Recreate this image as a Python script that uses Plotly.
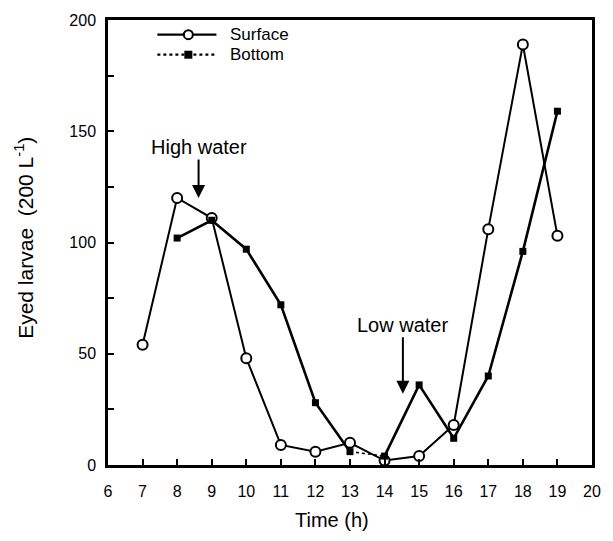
import plotly.graph_objects as go

# Eyed larvae counts per 200 L, sampled hourly
hours_surface = [7, 8, 9, 10, 11, 12, 13, 14, 15, 16, 17, 18, 19]
surface = [54, 120, 111, 48, 9, 6, 10, 2, 4, 18, 106, 189, 103]

hours_bottom = [8, 9, 10, 11, 12, 13, 14, 15, 16, 17, 18, 19]
bottom = [102, 110, 97, 72, 28, 6, 4, 36, 12, 40, 96, 159]

x_ticks = list(range(6, 21))
y_ticks = [0, 50, 100, 150, 200]

FONT = "Liberation Sans, Arial, sans-serif"

fig = go.Figure()

# bottom samples: solid runs, with the 13-14 h stretch drawn dotted
i13 = hours_bottom.index(13)
i14 = hours_bottom.index(14)
fig.add_trace(go.Scatter(
    x=hours_bottom[:i13 + 1], y=bottom[:i13 + 1], mode="lines",
    line=dict(color="black", width=2.6), showlegend=False, hoverinfo="skip"))
fig.add_trace(go.Scatter(
    x=hours_bottom[i13:i14 + 1], y=bottom[i13:i14 + 1], mode="lines",
    line=dict(color="black", width=1.6, dash="dot"), showlegend=False, hoverinfo="skip"))
fig.add_trace(go.Scatter(
    x=hours_bottom[i14:], y=bottom[i14:], mode="lines",
    line=dict(color="black", width=2.6), showlegend=False, hoverinfo="skip"))

# surface samples
fig.add_trace(go.Scatter(
    x=hours_surface, y=surface, mode="lines+markers", name="Surface",
    line=dict(color="black", width=2),
    marker=dict(symbol="circle", size=10, color="white",
                line=dict(color="black", width=2)),
    showlegend=False))

fig.add_trace(go.Scatter(
    x=hours_bottom, y=bottom, mode="markers", name="Bottom",
    marker=dict(symbol="square", size=7, color="black"),
    showlegend=False))

# key, drawn in paper coordinates
shapes = []
rows = [(0.967, "Surface", "solid", 2.2), (0.922, "Bottom", "dot", 2.2)]
for yy, label, dash, w in rows:
    shapes.append(dict(type="line", xref="paper", yref="paper",
                       x0=0.102, x1=0.224, y0=yy, y1=yy,
                       line=dict(color="black", width=w, dash=dash)))
shapes.append(dict(type="circle", xref="paper", yref="paper",
                   xsizemode="pixel", ysizemode="pixel",
                   xanchor=0.166, yanchor=rows[0][0],
                   x0=-4.5, x1=4.5, y0=-4.5, y1=4.5,
                   fillcolor="white", line=dict(color="black", width=2)))
shapes.append(dict(type="rect", xref="paper", yref="paper",
                   xsizemode="pixel", ysizemode="pixel",
                   xanchor=0.166, yanchor=rows[1][0],
                   x0=-4, x1=4, y0=-4, y1=4,
                   fillcolor="black", line=dict(color="black", width=0)))

annotations = []
for yy, label, dash, w in rows:
    annotations.append(dict(xref="paper", yref="paper", x=0.248, y=yy,
                            text=label, showarrow=False, xanchor="left",
                            yanchor="middle", font=dict(size=17, color="black", family=FONT)))

# tide markers: label with an arrow down to the curve
annotations += [
    dict(x=8.62, y=120, ax=0, ay=-51, text="High water", showarrow=True,
         arrowhead=2, arrowsize=1.3, arrowwidth=2, arrowcolor="black",
         font=dict(size=20, color="black", family=FONT)),
    dict(x=14.53, y=32, ax=0, ay=-69, text="Low water", showarrow=True,
         arrowhead=2, arrowsize=1.3, arrowwidth=2, arrowcolor="black",
         font=dict(size=20, color="black", family=FONT)),
    # axis titles
    dict(xref="paper", yref="paper", x=(336 - 108) / 493, y=-0.124,
         text="Time (h)", showarrow=False, yanchor="middle",
         font=dict(size=20, color="black", family=FONT)),
    dict(xref="paper", yref="paper", x=-0.174, y=0.51,
         text="Eyed larvae  (200 L<sup>-1</sup>)", showarrow=False, textangle=-90,
         xanchor="center", yanchor="middle",
         font=dict(size=21, color="black", family=FONT)),
]

fig.update_layout(
    width=613, height=541,
    margin=dict(l=108, r=12, t=20, b=76),
    paper_bgcolor="white", plot_bgcolor="white",
    font=dict(family=FONT, color="black", size=16),
    shapes=shapes, annotations=annotations,
    showlegend=False,
)

fig.update_xaxes(
    range=[6, 20], tickmode="array", tickvals=x_ticks,
    ticks="inside", ticklen=6, tickwidth=2, tickcolor="black",
    showline=True, linewidth=2.5, linecolor="black", mirror=True,
    showgrid=False, zeroline=False, ticklabelstandoff=10,
    tickfont=dict(size=16),
)
fig.update_yaxes(
    range=[0, 200], tickmode="array", tickvals=y_ticks,
    ticks="inside", ticklen=6, tickwidth=2, tickcolor="black",
    minor=dict(dtick=25, ticks="inside", ticklen=6, tickwidth=2, tickcolor="black"),
    showline=True, linewidth=2.5, linecolor="black", mirror=True,
    showgrid=False, zeroline=False, ticklabelstandoff=6,
    tickfont=dict(size=16),
)

fig.write_html("out.html")
